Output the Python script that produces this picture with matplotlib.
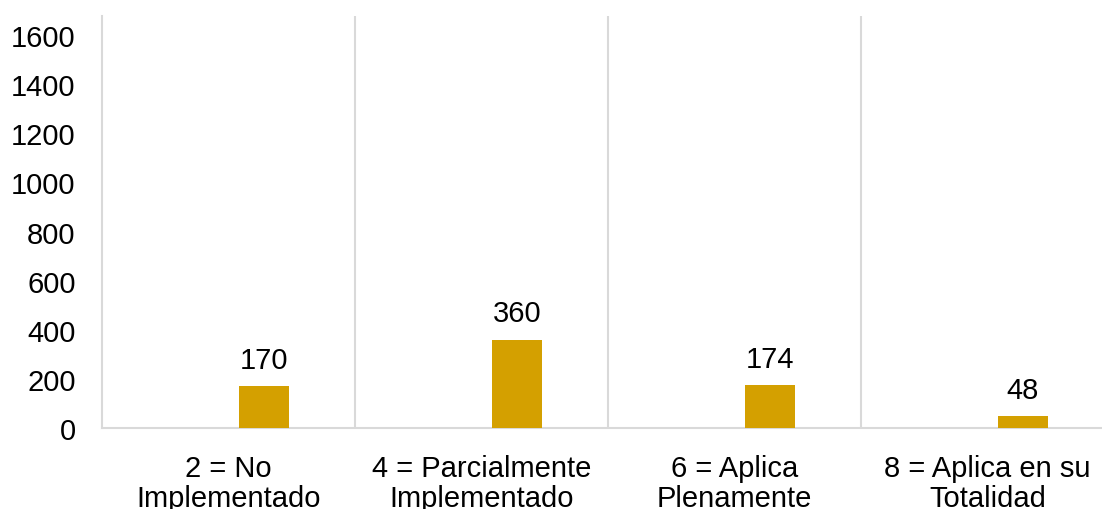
import numpy as np
import matplotlib
matplotlib.use("Agg")
import matplotlib.pyplot as plt

plt.rcParams['font.family'] = ['Liberation Sans', 'DejaVu Sans']

categories = ["2 = No\nImplementado", "4 = Parcialmente\nImplementado",
              "6 = Aplica\nPlenamente", "8 = Aplica en su\nTotalidad"]
values = [170, 360, 174, 48]
yticks = [0, 200, 400, 600, 800, 1000, 1200, 1400, 1600]

bar_color = '#D4A000'
grid_color = '#D9D9D9'
fs = 21

fig = plt.figure(figsize=(11.02, 5.10), dpi=100)
# plot area runs a little past the right edge of the figure
ax = fig.add_axes([102 / 1102, 81 / 510, 1012 / 1102, 412 / 510])

x = np.arange(len(categories))
offset = 0.14
width = 0.198
bars = ax.bar(x + offset, values, width=width, color=bar_color, zorder=3)

for b, v in zip(bars, values):
    ax.annotate(str(v), (b.get_x() + b.get_width() / 2, v),
                xytext=(0, 9), textcoords='offset points',
                ha='center', va='bottom', fontsize=fs, color='black')

ax.set_xlim(-0.5, len(categories) - 0.5)
ax.set_ylim(0, 1678)
ax.set_yticks(yticks)
ax.set_yticklabels([str(t) for t in yticks])
ax.set_xticks(x)
ax.set_xticklabels(categories, linespacing=1.08)

# vertical separators between categories
ax.set_xticks(np.arange(0.5, len(categories) - 0.5, 1), minor=True)
ax.grid(True, which='minor', axis='x', color=grid_color, linewidth=1.5, zorder=0)
ax.grid(False, which='major')

ax.tick_params(axis='y', length=0, pad=19, labelsize=fs)
ax.tick_params(axis='x', which='major', length=0, pad=19, labelsize=fs)
ax.tick_params(axis='x', which='minor', length=0)

for side in ['top', 'right']:
    ax.spines[side].set_visible(False)
for side in ['left', 'bottom']:
    ax.spines[side].set_color(grid_color)
    ax.spines[side].set_linewidth(1.5)

fig.savefig("out.png", dpi=100)
